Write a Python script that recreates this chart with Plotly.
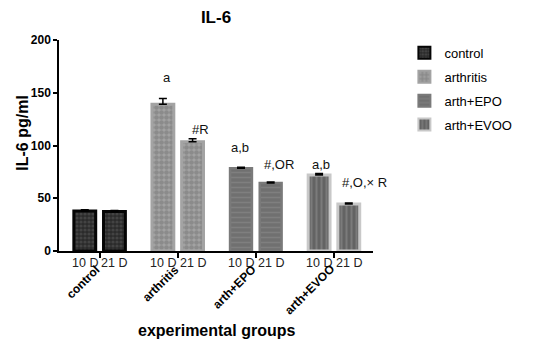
import plotly.graph_objects as go

groups = ["control", "arthritis", "arth+EPO", "arth+EVOO"]
times = ["10 D", "21 D"]
values_10d = [38, 139, 78.5, 72]
values_21d = [37.5, 103.5, 64.5, 44.5]
err_10d = [1, 5.5, 1, 1.5]
err_21d = [0.8, 3, 0.8, 1]
sig_10d = ["", "a", "a,b", "a,b"]
sig_21d = ["", "#R", "#,OR", "#,O,× R"]
y_ticks = [0, 50, 100, 150, 200]

styles = [
    dict(bg="#2a2a2a", fg="#5c5c5c", shape=".", line="#050505", lw=3, size=4, sol=0.5),
    dict(bg="#a4a4a4", fg="#717171", shape=".", line="#a3a3a3", lw=3, size=5, sol=0.7),
    dict(bg="#707070", fg="#8e8e8e", shape="-", line="#7a7a7a", lw=2.5, size=5, sol=0.3),
    dict(bg="#636363", fg="#939393", shape="|", line="#c8c8c8", lw=3, size=5, sol=0.4),
]
# per-label pixel nudges (x, y) relative to the error-bar top
label_shift_10d = [(0, 0), (4, 21), (-1, 20), (2, 9)]
label_shift_21d = [(0, 0), (8, 9), (8, 18), (16, 21)]

off = 0.19
fig = go.Figure()
for i, g in enumerate(groups):
    s = styles[i]
    fig.add_trace(go.Bar(
        x=[i - off, i + off], y=[values_10d[i], values_21d[i]], width=0.28,
        name=g, legendgroup=g,
        marker=dict(color=s["bg"], line=dict(color=s["line"], width=s["lw"]),
                    pattern=dict(shape=s["shape"], fgcolor=s["fg"], bgcolor=s["bg"],
                                 size=s["size"], solidity=s["sol"])),
        error_y=dict(type="data", symmetric=False, array=[err_10d[i], err_21d[i]],
                     arrayminus=[0, 0], color="black", thickness=1.5, width=4),
    ))

ann = []
for i in range(len(groups)):
    for j, t in enumerate(times):
        ann.append(dict(x=i + (off if j else -off), y=0, xref="x", yref="paper",
                        text=t, showarrow=False, yanchor="top", yshift=-3,
                        font=dict(size=12.5, color="#222")))
    ann.append(dict(x=i, y=0, xref="x", yref="paper", text="<b>" + groups[i] + "</b>",
                    textangle=-45, showarrow=False, xanchor="right", yanchor="top",
                    xshift=6, yshift=-9, font=dict(size=12, color="black")))
for i in range(len(groups)):
    for j, lab in enumerate([sig_10d[i], sig_21d[i]]):
        if not lab:
            continue
        top = (values_10d[i] + err_10d[i]) if j == 0 else (values_21d[i] + err_21d[i])
        dx, dy = (label_shift_10d if j == 0 else label_shift_21d)[i]
        ann.append(dict(x=i + (off if j else -off), y=top, xref="x", yref="y",
                        text=lab, showarrow=False, yanchor="middle", yshift=dy,
                        xshift=dx, font=dict(size=13, color="#111")))
# axis titles
ann.append(dict(x=-0.119, y=0.559, xref="paper", yref="paper", text="<b>IL-6 pg/ml</b>",
                textangle=-90, showarrow=False, xanchor="center", yanchor="middle",
                font=dict(size=16, color="black")))
ann.append(dict(x=0.5, y=-0.379, xref="paper", yref="paper", text="<b>experimental groups</b>",
                showarrow=False, xanchor="center", yanchor="middle",
                font=dict(size=16, color="black")))

fig.update_layout(
    width=533, height=359,
    margin=dict(l=51, r=168, t=32, b=116),
    paper_bgcolor="white", plot_bgcolor="white",
    font=dict(family="Liberation Sans, Arial, sans-serif", color="black"),
    title=dict(text="<b>IL-6</b>", x=0.5, xref="paper", y=0.975, yref="container",
               yanchor="middle", font=dict(size=17)),
    barmode="overlay",
    showlegend=True,
    legend=dict(x=1.1, y=1.01, xanchor="left", yanchor="top", font=dict(size=13),
                tracegroupgap=4, itemsizing="constant"),
    annotations=ann,
    xaxis=dict(range=[-0.52, 3.5], tickvals=list(range(len(groups))), showticklabels=False,
               ticks="outside", ticklen=5, tickwidth=1.5, tickcolor="black",
               showline=True, linecolor="black", linewidth=1.5, showgrid=False, zeroline=False,
               automargin=False),
    yaxis=dict(range=[0, 200], tickvals=y_ticks, ticks="outside", ticklen=4, tickwidth=1.5,
               tickcolor="black", showline=True, linecolor="black", linewidth=1.5,
               showgrid=False, zeroline=False, tickfont=dict(size=12, weight="bold"),
               automargin=False),
)

fig.write_html("out.html")
